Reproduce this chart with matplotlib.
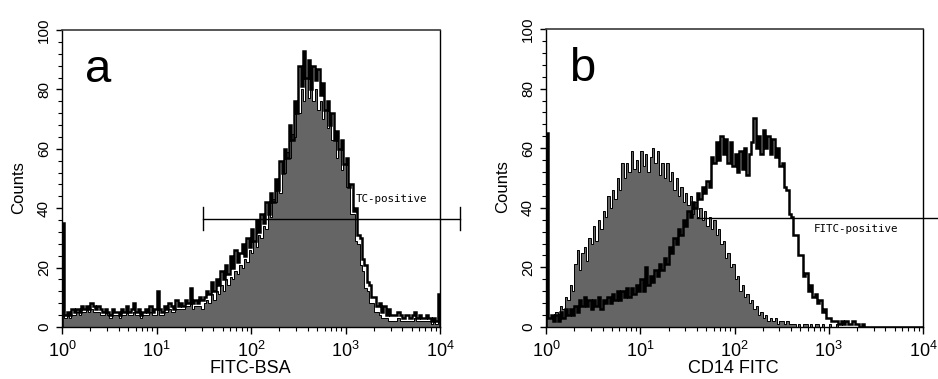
import numpy as np
import matplotlib
matplotlib.use("Agg")
import matplotlib.pyplot as plt
from matplotlib.ticker import MultipleLocator, LogLocator, NullFormatter, LogFormatterSciNotation

plt.rcParams['font.family'] = ['Liberation Sans', 'DejaVu Sans']
plt.rcParams['mathtext.fontset'] = 'custom'
plt.rcParams['mathtext.rm'] = 'Liberation Sans'
plt.rcParams['mathtext.it'] = 'Liberation Sans'
plt.rcParams['mathtext.default'] = 'regular'

# Histogram counts, 160 log-spaced channels spanning 10^0 .. 10^4
# Panel a: FITC-BSA uptake (gray = filled control, black = outline)
a_control = [
    20, 3, 4, 3, 4, 4, 5, 4, 5, 5,
    6, 5, 6, 5, 5, 5, 4, 4, 5, 4,
    3, 4, 4, 4, 3, 4, 4, 5, 4, 4,
    5, 4, 4, 3, 4, 4, 4, 5, 4, 4,
    6, 4, 4, 5, 5, 6, 5, 5, 6, 6,
    6, 6, 7, 7, 8, 6, 7, 7, 7, 6,
    8, 9, 8, 11, 9, 12, 11, 14, 12, 16,
    14, 17, 16, 19, 18, 21, 20, 23, 22, 26,
    25, 29, 27, 31, 30, 34, 33, 38, 37, 43,
    42, 47, 45, 53, 52, 59, 57, 65, 64, 73,
    72, 80, 76, 84, 77, 81, 76, 80, 73, 76,
    70, 73, 67, 70, 63, 64, 57, 60, 53, 55,
    47, 47, 38, 38, 29, 28, 21, 19, 13, 12,
    8, 8, 5, 5, 4, 3, 3, 3, 2, 2,
    2, 2, 3, 2, 2, 2, 2, 2, 2, 3,
    2, 2, 2, 2, 2, 2, 1, 2, 1, 6,
]
a_sample = [
    35, 4, 5, 4, 6, 5, 6, 5, 7, 6,
    7, 6, 8, 7, 6, 7, 6, 5, 6, 5,
    4, 6, 5, 5, 4, 6, 5, 7, 5, 6,
    8, 5, 6, 4, 5, 6, 5, 7, 5, 6,
    12, 6, 5, 7, 6, 8, 7, 6, 9, 7,
    8, 7, 9, 8, 13, 8, 9, 8, 10, 9,
    10, 12, 11, 15, 12, 16, 14, 19, 16, 21,
    18, 24, 20, 26, 22, 25, 28, 24, 30, 27,
    33, 29, 36, 32, 38, 35, 42, 38, 45, 42,
    50, 46, 56, 52, 60, 57, 68, 63, 76, 72,
    88, 81, 93, 84, 90, 80, 88, 83, 87, 78,
    82, 73, 76, 68, 72, 63, 66, 60, 63, 55,
    57, 47, 48, 39, 40, 31, 30, 23, 21, 15,
    14, 10, 10, 7, 8, 5, 7, 4, 6, 4,
    4, 4, 5, 4, 3, 4, 4, 3, 4, 5,
    3, 4, 3, 3, 4, 3, 2, 3, 2, 11,
]

# Panel b: CD14 FITC staining
b_control = [
    5, 3, 4, 2, 5, 3, 7, 6, 10, 9,
    14, 12, 21, 26, 19, 25, 27, 22, 30, 28,
    34, 29, 36, 33, 39, 37, 44, 40, 46, 43,
    50, 46, 55, 50, 55, 52, 59, 53, 56, 52,
    59, 54, 58, 52, 57, 60, 55, 59, 51, 55,
    50, 55, 49, 52, 46, 50, 44, 47, 42, 45,
    41, 44, 38, 42, 37, 40, 36, 39, 34, 37,
    33, 36, 31, 33, 28, 29, 23, 25, 20, 21,
    16, 17, 12, 14, 10, 11, 8, 9, 6, 7,
    4, 5, 3, 4, 2, 3, 2, 3, 1, 2,
    2, 1, 2, 1, 1, 1, 0, 1, 0, 1,
    1, 0, 1, 0, 1, 1, 0, 1, 0, 0,
    1, 0, 0, 1, 0, 0, 0, 0, 0, 0,
    0, 0, 0, 0, 0, 0, 0, 0, 0, 0,
    0, 0, 0, 0, 0, 0, 0, 0, 0, 0,
    0, 0, 0, 0, 0, 0, 0, 0, 0, 0,
]
b_sample = [
    65, 3, 4, 2, 4, 2, 5, 3, 6, 4,
    6, 4, 7, 5, 9, 7, 10, 7, 9, 6,
    9, 7, 10, 6, 9, 8, 10, 8, 11, 9,
    12, 9, 12, 10, 13, 10, 13, 11, 14, 12,
    16, 12, 20, 14, 17, 15, 19, 17, 21, 19,
    23, 21, 27, 25, 30, 28, 33, 31, 36, 34,
    39, 37, 42, 40, 45, 43, 47, 45, 49, 47,
    57, 55, 62, 56, 64, 58, 63, 55, 62, 54,
    58, 52, 59, 53, 60, 51, 58, 62, 70, 60,
    64, 58, 66, 60, 64, 58, 63, 57, 60, 54,
    55, 47, 46, 38, 37, 31, 31, 24, 24, 17,
    18, 12, 14, 10, 11, 8, 9, 5, 6, 3,
    3, 2, 2, 2, 1, 2, 1, 2, 1, 1,
    2, 1, 1, 0, 1, 0, 0, 0, 0, 0,
    0, 0, 0, 0, 0, 0, 0, 0, 0, 0,
    0, 0, 0, 0, 0, 0, 0, 0, 0, 0,
]

# Positive-gate markers: (start, end, level) and label placement
gate_a = (31, 16300, 36.5)
gate_b = (40, 14500, 36.5)
gate_label_a = ("TC-positive", 1290, 43.2)
gate_label_b = ("FITC-positive", 697, 33.0)

y_ticks = [0, 20, 40, 60, 80, 100]
x_ticks = [1, 10, 100, 1000, 10000]

FILL_GRAY = "#656565"

fig = plt.figure(figsize=(9.38, 3.79), dpi=100)
ax_a = fig.add_axes([62 / 938, 52 / 379, 378 / 938, 297 / 379])
ax_b = fig.add_axes([546 / 938, 52 / 379, 377 / 938, 298 / 379])


def draw_panel(ax, control, sample, letter, xlabel, gate, gate_label, caps):
    edges = np.logspace(0, 4, len(control) + 1)
    ax.stairs(control, edges, fill=True, facecolor=FILL_GRAY,
              edgecolor="none", linewidth=0, zorder=1)
    ax.stairs(control, edges, color="black", linewidth=0.7, zorder=2)
    ax.stairs(sample, edges, color="black", linewidth=1.8, zorder=3)

    x0, x1, lvl = gate
    ax.plot([x0, x1], [lvl, lvl], color="black", lw=1.0, zorder=4, clip_on=False)
    if caps:
        for xc in (x0, x1):
            ax.plot([xc, xc], [lvl - 4, lvl + 4], color="black", lw=1.0,
                    zorder=4, clip_on=False)
    txt, tx, ty = gate_label
    ax.text(tx, ty, txt, family="DejaVu Sans Mono", fontsize=7.8,
            ha="left", va="center", zorder=5)

    ax.set_xscale("log")
    ax.set_xlim(1, 1e4)
    ax.set_ylim(0, 100)

    ax.set_xticks(x_ticks)
    ax.xaxis.set_major_formatter(LogFormatterSciNotation())
    ax.xaxis.set_minor_locator(LogLocator(base=10, subs=np.arange(2, 10), numticks=20))
    ax.xaxis.set_minor_formatter(NullFormatter())
    ax.set_yticks(y_ticks)
    ax.yaxis.set_minor_locator(MultipleLocator(4))

    ax.tick_params(axis="x", which="major", direction="out", length=5, width=1,
                   labelsize=13, pad=5)
    ax.tick_params(axis="x", which="minor", direction="out", length=3, width=0.8)
    ax.tick_params(axis="y", which="major", direction="out", length=4, width=1,
                   labelsize=11, pad=4, labelrotation=90)
    ax.tick_params(axis="y", which="minor", direction="out", length=3, width=0.8)
    for lab in ax.get_yticklabels():
        lab.set_va("center")

    for side in ("left", "right", "bottom"):
        ax.spines[side].set_color("black")
        ax.spines[side].set_linewidth(1.0)
    ax.spines["top"].set_color("#3a3a3a")
    ax.spines["top"].set_linewidth(1.2)

    ax.set_ylabel("Counts", fontsize=12)
    ax.yaxis.set_label_coords(-0.095, 0.47)
    ax.set_xlabel(xlabel, fontsize=13)
    ax.xaxis.set_label_coords(0.497, -0.112)

    ax.text(0.095, 0.865, letter, transform=ax.transAxes, fontsize=34,
            ha="center", va="center")


draw_panel(ax_a, a_control, a_sample, "a", "FITC-BSA", gate_a, gate_label_a, True)
draw_panel(ax_b, b_control, b_sample, "b", "CD14 FITC", gate_b, gate_label_b, False)

fig.savefig("out.png", dpi=100)
